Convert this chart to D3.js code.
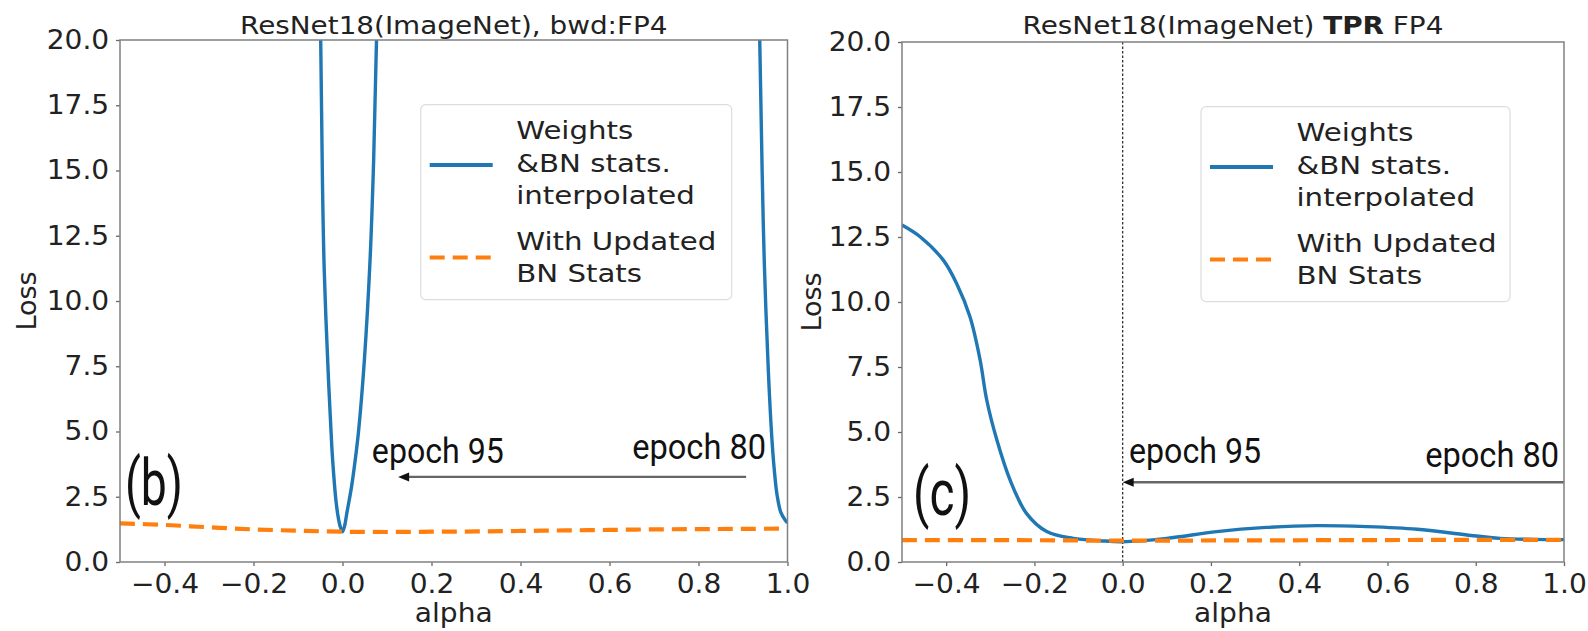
<!DOCTYPE html>
<html>
<head>
<meta charset="utf-8">
<script src="https://cdn.jsdelivr.net/npm/d3@7"></script>
<style>
  body { margin: 0; background: #fff; }
  svg { display: block; font-family: "DejaVu Sans", sans-serif; }
  .note { font-family: "Liberation Sans Narrow", Roboto, sans-serif; fill: #111; }
</style>
</head>
<body>
<svg width="1588" height="631"></svg>
<script>
//begin: data
var yTicks = [0, 2.5, 5, 7.5, 10, 12.5, 15, 17.5, 20];
var xTicks = [-0.4, -0.2, 0, 0.2, 0.4, 0.6, 0.8, 1.0];
var legendBlue = ["Weights", "&BN stats.", "interpolated"];
var legendOrange = ["With Updated", "BN Stats"];

// (b) bwd:FP4 -- values above 20 are off the axes and get clipped
var bAlpha  = [-0.055, -0.049, -0.045, -0.041, -0.032, -0.024, -0.02, -0.015, -0.01, -0.005, 0,
               0.005, 0.0098, 0.02, 0.028, 0.036, 0.049, 0.062, 0.07, 0.077, 0.085,
               0.93, 0.9376, 0.943, 0.948, 0.957, 0.9654, 0.971, 0.9767, 0.985, 0.995, 1.0];
var bInterp = [27, 20, 14.5, 11.15, 7.2, 4.4, 3.4, 2.4, 1.75, 1.35, 1.16,
               1.4, 1.88, 2.85, 3.83, 5.0, 7.7, 11.6, 15.4, 20.4, 27,
               28, 20, 15, 11.4, 7.3, 4.6, 3.4, 2.55, 1.9, 1.6, 1.5];
var bUpdAlpha = [-0.5, -0.4, -0.3, -0.2, -0.1, 0, 0.1, 0.2, 0.3, 0.4, 0.5, 0.6, 0.7, 0.8, 0.9, 1.0];
var bUpd      = [1.48, 1.42, 1.33, 1.25, 1.2, 1.16, 1.15, 1.16, 1.17, 1.19, 1.21, 1.23, 1.25, 1.26, 1.27, 1.28];

// (c) TPR FP4
var cAlpha  = [-0.5, -0.459, -0.406, -0.376, -0.346, -0.323, -0.308, -0.285, -0.255, -0.218, -0.172, -0.112, -0.051, 0,
               0.1, 0.213, 0.326, 0.44, 0.553, 0.667, 0.78, 0.855, 0.93, 1.0];
var cInterp = [12.96, 12.51, 11.6, 10.7, 9.43, 7.77, 6.23, 4.69, 3.15, 1.87, 1.17, 0.91, 0.82, 0.78,
               0.91, 1.17, 1.33, 1.40, 1.36, 1.26, 1.04, 0.91, 0.87, 0.86];
var cUpdAlpha = [-0.5, -0.25, 0, 0.25, 0.5, 0.75, 1.0];
var cUpd      = [0.84, 0.84, 0.82, 0.83, 0.84, 0.85, 0.85];
//end: data

var blue = "#1f77b4", orange = "#ff7f0e";
var svg = d3.select("svg");

var panels = [
  { key: "b", left: 120, right: 787.5, top: 40, bottom: 562,
    title: [{t: "ResNet18(ImageNet), bwd:FP4"}],
    interp: d3.zip(bAlpha, bInterp), upd: d3.zip(bUpdAlpha, bUpd),
    legend: [420.7, 104.6, 311, 195], ylabX: 36,
    arrow: [0.907, 0.125, 3.26], e95: [0.066, 3.8], e80: [0.952, 3.96], tag: ["(b)", -0.489, 2.18], vline: false },
  { key: "c", left: 902, right: 1564, top: 42, bottom: 562,
    title: [{t: "ResNet18(ImageNet) "}, {t: "TPR", b: true}, {t: " FP4"}],
    interp: d3.zip(cAlpha, cInterp), upd: d3.zip(cUpdAlpha, cUpd),
    legend: [1201, 106.6, 309, 195], ylabX: 820.5,
    arrow: [1.0, 0.0, 3.07], e95: [0.0144, 3.81], e80: [0.989, 3.65], tag: ["(c)", -0.475, 1.81], vline: true }
];

panels.forEach(drawPanel);

function drawPanel(p) {
  var x = d3.scaleLinear().domain([-0.5, 1.0]).range([p.left, p.right]);
  var y = d3.scaleLinear().domain([0, 20]).range([p.bottom, p.top]);
  var g = svg.append("g");
  var cx = (p.left + p.right) / 2, cy = (p.top + p.bottom) / 2;

  g.append("clipPath").attr("id", "clip-" + p.key)
    .append("rect").attr("x", p.left).attr("y", p.top)
      .attr("width", p.right - p.left).attr("height", p.bottom - p.top);

  // axes
  var xa = g.append("g").attr("transform", "translate(0," + p.bottom + ")")
    .call(d3.axisBottom(x).tickValues(xTicks).tickSize(4).tickPadding(9).tickFormat(d3.format(".1f")));
  var ya = g.append("g").attr("transform", "translate(" + p.left + ",0)")
    .call(d3.axisLeft(y).tickValues(yTicks).tickSize(4).tickPadding(6).tickFormat(d3.format(".1f")));
  [xa, ya].forEach(function(a) {
    a.select(".domain").remove();
    a.selectAll(".tick line").attr("stroke", "#666").attr("stroke-width", 1.3);
    a.selectAll(".tick text").attr("font-size", 26).attr("font-family", "DejaVu Sans")
      .attr("fill", "#222").attr("transform", "scale(1.08,1)");
  });

  // title
  var title = g.append("text")
      .attr("transform", "translate(" + [cx, 34] + ") scale(1.16,1)")
      .attr("text-anchor", "middle").attr("font-size", 24).attr("fill", "#222");
  p.title.forEach(function(s) {
    title.append("tspan").attr("font-weight", s.b ? "bold" : null).text(s.t);
  });

  // axis labels
  g.append("text")
    .attr("transform", "translate(" + [cx, 622] + ") scale(1.08,1)")
    .attr("text-anchor", "middle").attr("font-size", 26).attr("fill", "#222")
    .text("alpha");
  g.append("text")
    .attr("transform", "translate(" + [p.ylabX, cy] + ") rotate(-90)")
    .attr("text-anchor", "middle").attr("font-size", 27).attr("fill", "#222")
    .text("Loss");

  var plot = g.append("g").attr("clip-path", "url(#clip-" + p.key + ")");

  if (p.vline) {
    plot.append("line")
      .attr("x1", x(0)).attr("x2", x(0)).attr("y1", p.top).attr("y2", p.bottom)
      .attr("stroke", "#333").attr("stroke-width", 1.3).attr("stroke-dasharray", "2.5,2");
  }

  var line = d3.line().x(function(d) { return x(d[0]); }).y(function(d) { return y(d[1]); })
      .curve(d3.curveCatmullRom.alpha(0.5));

  plot.append("path").datum(p.interp)
    .attr("d", line).attr("fill", "none").attr("stroke", blue).attr("stroke-width", 3.4)
    .attr("stroke-linejoin", "round");
  plot.append("path").datum(p.upd)
    .attr("d", line).attr("fill", "none").attr("stroke", orange).attr("stroke-width", 4.2)
    .attr("stroke-dasharray", "15,8");

  // arrow epoch 80 -> epoch 95
  var ay = y(p.arrow[2]), ax0 = x(p.arrow[0]), ax1 = x(p.arrow[1]);
  g.append("line").attr("x1", ax0).attr("x2", ax1 + 8).attr("y1", ay).attr("y2", ay)
    .attr("stroke", "#666").attr("stroke-width", 2.4);
  g.append("path")
    .attr("d", "M" + [ax1, ay] + "L" + [ax1 + 11, ay - 4.5] + "L" + [ax1 + 11, ay + 4.5] + "Z")
    .attr("fill", "#111");

  g.append("text").classed("note", true)
    .attr("x", x(p.e95[0])).attr("y", y(p.e95[1]))
    .attr("font-size", 35).attr("textLength", 132).attr("lengthAdjust", "spacingAndGlyphs")
    .text("epoch 95");
  g.append("text").classed("note", true)
    .attr("x", x(p.e80[0]) - 134).attr("y", y(p.e80[1]))
    .attr("font-size", 35).attr("textLength", 134).attr("lengthAdjust", "spacingAndGlyphs")
    .text("epoch 80");
  g.append("text").classed("note", true)
    .attr("x", x(p.tag[1])).attr("y", y(p.tag[2]))
    .attr("font-size", 64).attr("textLength", 58).attr("lengthAdjust", "spacingAndGlyphs")
    .text(p.tag[0]);

  // spines
  g.append("rect")
    .attr("x", p.left).attr("y", p.top).attr("width", p.right - p.left).attr("height", p.bottom - p.top)
    .attr("fill", "none").attr("stroke", "#808080").attr("stroke-width", 1.5);

  // legend
  var L = p.legend;
  var lg = g.append("g").attr("transform", "translate(" + [L[0], L[1]] + ")");
  lg.append("rect").attr("width", L[2]).attr("height", L[3]).attr("rx", 5)
    .attr("fill", "#fff").attr("fill-opacity", 0.8).attr("stroke", "#ddd").attr("stroke-width", 1.2);
  lg.append("line").attr("x1", 9).attr("x2", 72).attr("y1", 60.4).attr("y2", 60.4)
    .attr("stroke", blue).attr("stroke-width", 4);
  lg.append("line").attr("x1", 9).attr("x2", 72).attr("y1", 152.9).attr("y2", 152.9)
    .attr("stroke", orange).attr("stroke-width", 4).attr("stroke-dasharray", "15,8");
  var rows = legendBlue.map(function(t, i) { return [t, 34.4 + i * 32.5]; })
    .concat(legendOrange.map(function(t, i) { return [t, 144.9 + i * 32.5]; }));
  rows.forEach(function(r) {
    lg.append("text")
      .attr("transform", "translate(" + [95.5, r[1]] + ") scale(1.17,1)")
      .attr("font-size", 25).attr("fill", "#222").text(r[0]);
  });
}
</script>
</body>
</html>
